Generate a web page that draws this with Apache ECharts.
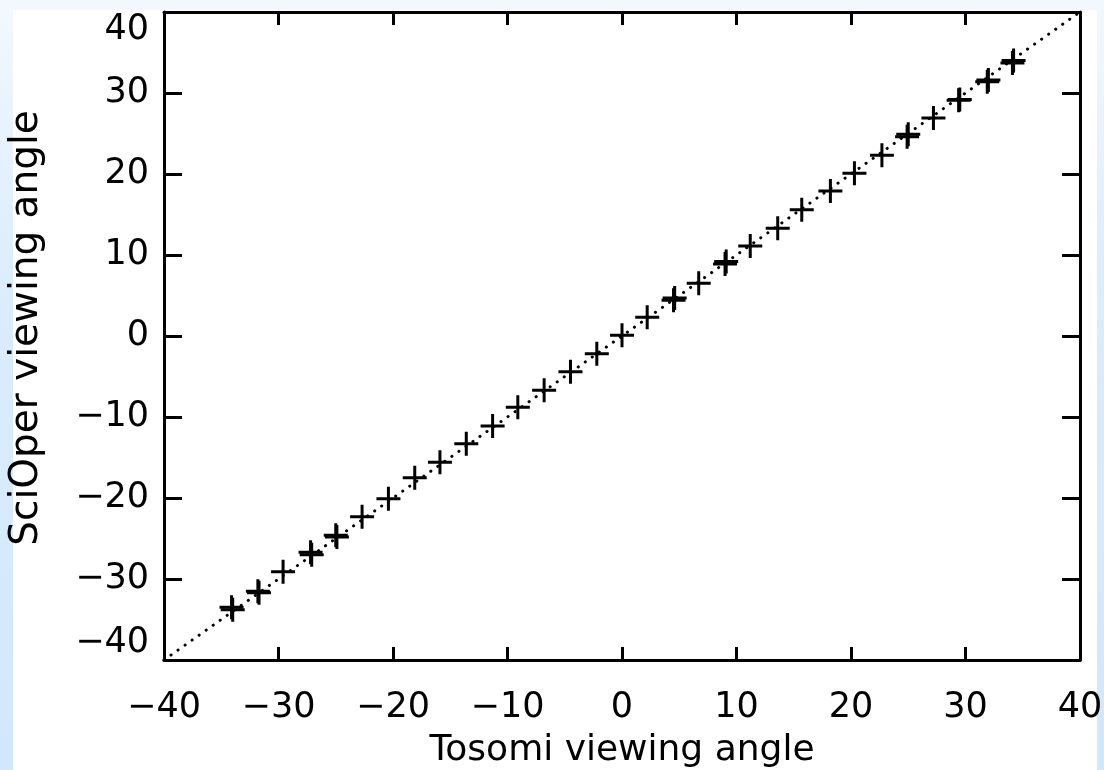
<!DOCTYPE html>
<html>
<head>
<meta charset="utf-8">
<script src="https://cdn.jsdelivr.net/npm/echarts@6/dist/echarts.min.js"></script>
<style>
html,body{margin:0;padding:0;width:1104px;height:770px;overflow:hidden;}
body{background:linear-gradient(to bottom,#f3f8fe 0%,#dcedfc 35%,#d0e8fb 100%);}
#panel{position:absolute;left:13px;top:10px;width:1084px;height:760px;background:#ffffff;}
#chart{position:absolute;left:0;top:0;width:1104px;height:770px;}
</style>
</head>
<body>
<div id="panel"></div>
<div id="chart"></div>
<script>
// Data
const tosomiAngle  = [-34.1,-31.8,-29.6,-27.2,-25.0,-22.7,-20.4,-18.1,-15.9,-13.6,-11.3,-9.1,-6.8,-4.5,-2.2,0.0,2.2,4.5,6.7,9.0,11.2,13.6,15.7,18.2,20.3,22.7,24.9,27.2,29.4,31.9,34.1];
const sciOperAngle = [-33.5,-31.5,-29.1,-26.7,-24.6,-22.3,-20.1,-17.5,-15.6,-13.3,-11.1,-8.8,-6.7,-4.4,-2.2,0.1,2.3,4.4,6.5,8.9,11.1,13.3,15.6,17.9,20.1,22.3,24.6,26.9,29.1,31.4,33.7];
// overlapping repeat measurements (crosses that look bold)
const tosomiRepeat  = [-34.0,-31.7,-27.1,-24.9,4.6,9.1,25.0,29.5,32.0,34.2];
const sciOperRepeat = [-33.8,-31.7,-27.0,-24.8,4.7,9.2,24.9,29.2,31.6,34.0];
// one-to-one reference line
const diagX = [-40, 40];
const diagY = [-40, 40];
const xTitle = 'Tosomi viewing angle';
const yTitle = 'SciOper viewing angle';

const pts = tosomiAngle.map((x,i)=>[x, sciOperAngle[i]]);
const rep = tosomiRepeat.map((x,i)=>[x, sciOperRepeat[i]]);
const diag = diagX.map((x,i)=>[x, diagY[i]]);

const FONT = 'DejaVu Sans';
const crossPath = 'path://M10.5,0L13.5,0L13.5,10.5L24,10.5L24,13.5L13.5,13.5L13.5,24L10.5,24L10.5,13.5L0,13.5L0,10.5L10.5,10.5Z';
const fmt = v => String(v).replace('-', '\u2212');

function axisBase() {
  return {
    type: 'value', min: -40, max: 40, interval: 10,
    axisLine: {show: true, onZero: false, lineStyle: {color: '#000', width: 3}},
    splitLine: {show: false},
    minorTick: {show: false}
  };
}

const chart = echarts.init(document.getElementById('chart'), null, {renderer: 'canvas'});
chart.setOption({
  animation: false,
  backgroundColor: 'transparent',
  grid: {left: 164, top: 12, width: 916, height: 648, containLabel: false, outerBoundsMode: 'none'},
  xAxis: [
    Object.assign(axisBase(), {
      position: 'bottom',
      axisTick: {show: true, inside: true, length: 13, lineStyle: {color: '#000', width: 3}},
      axisLabel: {show: true, color: '#000', fontFamily: FONT, fontSize: 35, margin: 30, formatter: fmt,
                  showMinLabel: true, showMaxLabel: true},
      name: xTitle, nameLocation: 'middle', nameGap: 73,
      nameTextStyle: {color: '#000', fontFamily: FONT, fontSize: 36}
    }),
    Object.assign(axisBase(), {
      position: 'top',
      axisTick: {show: true, inside: true, length: 13, lineStyle: {color: '#000', width: 3}},
      axisLabel: {show: false}
    })
  ],
  yAxis: [
    Object.assign(axisBase(), {
      position: 'left',
      axisTick: {show: true, inside: true, length: 18, lineStyle: {color: '#000', width: 3}},
      axisLabel: {show: true, color: '#000', fontFamily: FONT, fontSize: 35, margin: 15, formatter: fmt,
                  showMinLabel: true, showMaxLabel: true,
                  verticalAlignMaxLabel: 'top', verticalAlignMinLabel: 'bottom'},
      name: yTitle, nameLocation: 'middle', nameGap: 118, nameRotate: 90,
      nameTextStyle: {color: '#000', fontFamily: FONT, fontSize: 39, padding: [0, 0, 0, 16]}
    }),
    Object.assign(axisBase(), {
      position: 'right',
      axisTick: {show: true, inside: true, length: 18, lineStyle: {color: '#000', width: 3}},
      axisLabel: {show: false}
    })
  ],
  series: [
    {
      type: 'line', data: diag, showSymbol: false, symbol: 'none',
      lineStyle: {color: '#000', width: 3, type: [0.1, 8.5], cap: 'round'},
      z: 1, silent: true
    },
    {
      type: 'scatter', data: pts, symbol: crossPath, symbolSize: [24, 24],
      itemStyle: {color: '#000', opacity: 1}, z: 3
    },
    {
      type: 'scatter', data: rep, symbol: crossPath, symbolSize: [24, 24],
      itemStyle: {color: '#000', opacity: 1}, z: 3
    }
  ]
});
</script>
</body>
</html>
